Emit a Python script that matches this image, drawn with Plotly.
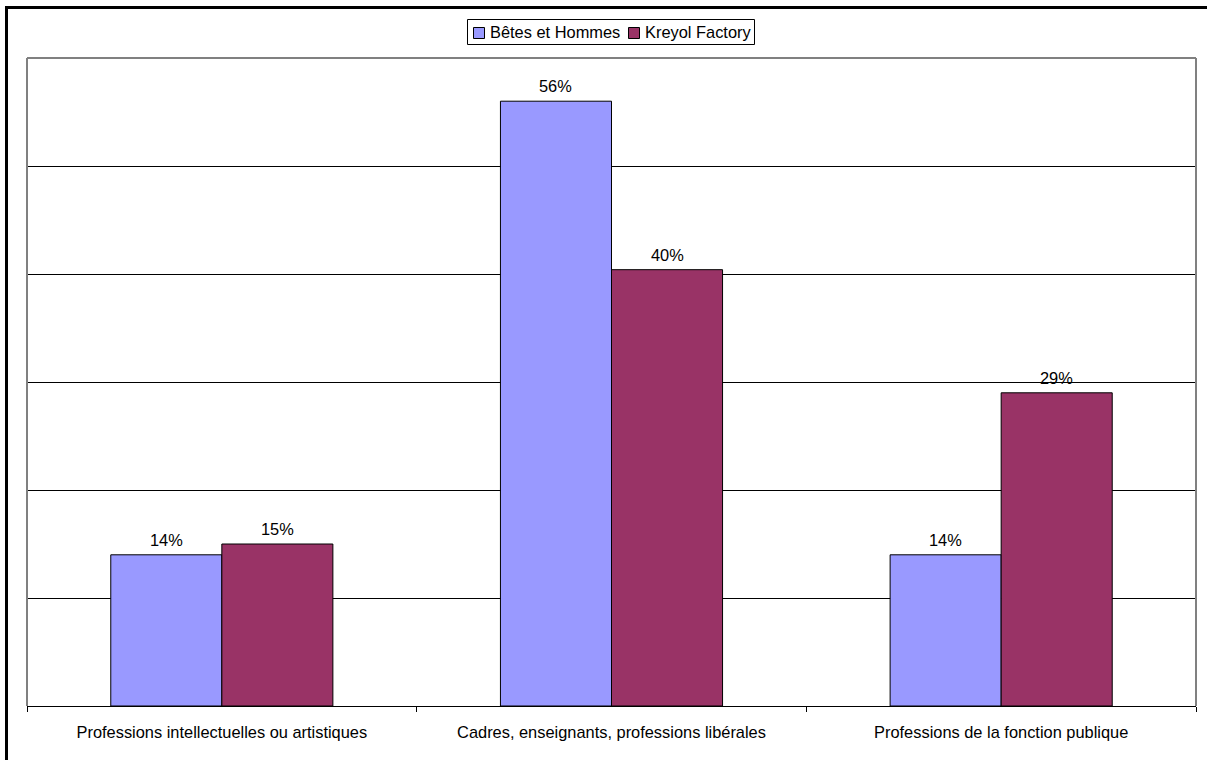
import plotly.graph_objects as go

categories = ["Professions intellectuelles ou artistiques",
              "Cadres, enseignants, professions libérales",
              "Professions de la fonction publique"]
series_names = ["Bêtes et Hommes", "Kreyol Factory"]
betes_values = [0.14, 0.56, 0.14]
kreyol_values = [0.15, 0.404, 0.29]
colors = ["#9999FF", "#993366"]

FONT = "Liberation Sans, Arial, sans-serif"
FS = 16.4
W, H = 1207, 760
L, R, T, B = 27, 1196, 58, 706

fig = go.Figure()
series = [betes_values, kreyol_values]
for name, vals, col in zip(series_names, series, colors):
    fig.add_trace(go.Bar(
        x=categories, y=vals, name=name,
        marker=dict(color=col, line=dict(color="black", width=1)),
        showlegend=False,
    ))

pw, ph = R - L, B - T
def px2x(px):
    return (px - L) / pw
def py2y(py):
    return (B - py) / ph

# value labels above bars
bar_w = pw / len(categories) * (1 - 0.43) / 2
for si, vals in enumerate(series):
    offset = (si - 0.5) * bar_w
    for c, v in zip(categories, vals):
        fig.add_annotation(x=c, y=v, xref="x", yref="y", text=f"{v:.0%}",
                           showarrow=False, xshift=offset, yanchor="bottom",
                           yshift=4, font=dict(family=FONT, size=FS, color="black"))

shapes = [
    dict(type="line", xref="paper", yref="paper", x0=0, x1=1, y0=1, y1=1,
         line=dict(color="#808080", width=2)),
    dict(type="line", xref="paper", yref="paper", x0=0, x1=0, y0=0, y1=1,
         line=dict(color="#808080", width=2)),
    dict(type="line", xref="paper", yref="paper", x0=1, x1=1, y0=0, y1=1,
         line=dict(color="#808080", width=2)),
    # outer chart border (top and left edges only visible in the frame)
    dict(type="line", xref="paper", yref="paper",
         x0=px2x(5), x1=px2x(1207), y0=py2y(7.5), y1=py2y(7.5),
         line=dict(color="black", width=3)),
    dict(type="line", xref="paper", yref="paper",
         x0=px2x(6.5), x1=px2x(6.5), y0=py2y(6), y1=py2y(760),
         line=dict(color="black", width=3)),
    # legend box
    dict(type="rect", xref="paper", yref="paper",
         x0=px2x(467.5), x1=px2x(754.5), y0=py2y(44.5), y1=py2y(19.5),
         line=dict(color="black", width=1), fillcolor="white"),
]

# legend entries (symbol squares + text)
legend_sym_x = [473.5, 628.5]
legend_txt_x = [488, 643]
for name, col, sx, tx in zip(series_names, colors, legend_sym_x, legend_txt_x):
    shapes.append(dict(type="rect", xref="paper", yref="paper",
                       x0=px2x(sx), x1=px2x(sx + 11), y0=py2y(38.5), y1=py2y(27.5),
                       line=dict(color="black", width=1), fillcolor=col))
    fig.add_annotation(x=px2x(tx), y=py2y(32), xref="paper", yref="paper",
                       text=name, showarrow=False, xanchor="left", yanchor="middle",
                       font=dict(family=FONT, size=FS, color="black"))

fig.update_layout(
    width=W, height=H,
    margin=dict(l=L, r=W - R, t=T, b=H - B, pad=0),
    paper_bgcolor="white", plot_bgcolor="white",
    font=dict(family=FONT, size=FS, color="black"),
    barmode="group", bargap=0.43, bargroupgap=0,
    showlegend=False,
    shapes=shapes,
    xaxis=dict(showline=True, linecolor="black", linewidth=1,
               ticks="outside", tickson="boundaries", ticklen=5,
               tickcolor="black", showgrid=False, ticklabelstandoff=11,
               tickfont=dict(family=FONT, size=FS, color="black")),
    yaxis=dict(range=[0, 0.6], dtick=0.1, showticklabels=False,
               showgrid=True, gridcolor="black", gridwidth=1,
               zeroline=False, showline=False, ticks=""),
)

fig.write_html("out.html", config={"displayModeBar": False},
               post_script="document.body.style.margin='0px';")
